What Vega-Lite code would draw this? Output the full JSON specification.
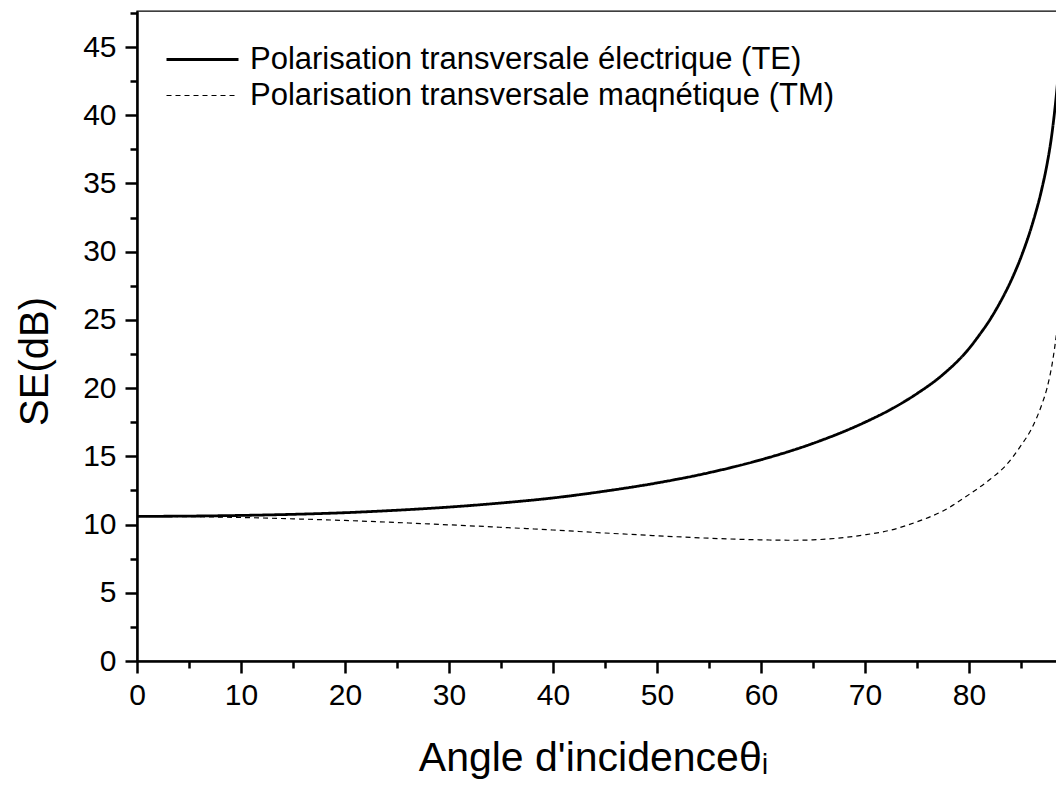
{
  "$schema": "https://vega.github.io/schema/vega-lite/v6.json",
  "width": 920,
  "height": 650,
  "autosize": "none",
  "padding": {"left": 137, "top": 11, "right": 0, "bottom": 124},
  "background": "white",
  "config": {
    "font": "Liberation Sans",
    "view": {"stroke": "black", "strokeWidth": 1.4}
  },
  "datasets": {
    "curves": [
      {"angle": 0, "se": 10.6, "pol": "Polarisation transversale électrique (TE)"},
      {"angle": 5, "se": 10.62, "pol": "Polarisation transversale électrique (TE)"},
      {"angle": 10, "se": 10.67, "pol": "Polarisation transversale électrique (TE)"},
      {"angle": 15, "se": 10.75, "pol": "Polarisation transversale électrique (TE)"},
      {"angle": 20, "se": 10.87, "pol": "Polarisation transversale électrique (TE)"},
      {"angle": 25, "se": 11.05, "pol": "Polarisation transversale électrique (TE)"},
      {"angle": 30, "se": 11.28, "pol": "Polarisation transversale électrique (TE)"},
      {"angle": 35, "se": 11.58, "pol": "Polarisation transversale électrique (TE)"},
      {"angle": 40, "se": 11.95, "pol": "Polarisation transversale électrique (TE)"},
      {"angle": 45, "se": 12.45, "pol": "Polarisation transversale électrique (TE)"},
      {"angle": 50, "se": 13.05, "pol": "Polarisation transversale électrique (TE)"},
      {"angle": 55, "se": 13.8, "pol": "Polarisation transversale électrique (TE)"},
      {"angle": 60, "se": 14.75, "pol": "Polarisation transversale électrique (TE)"},
      {"angle": 65, "se": 15.95, "pol": "Polarisation transversale électrique (TE)"},
      {"angle": 70, "se": 17.5, "pol": "Polarisation transversale électrique (TE)"},
      {"angle": 72.5, "se": 18.45, "pol": "Polarisation transversale électrique (TE)"},
      {"angle": 75, "se": 19.6, "pol": "Polarisation transversale électrique (TE)"},
      {"angle": 77.5, "se": 21.0, "pol": "Polarisation transversale électrique (TE)"},
      {"angle": 80, "se": 22.9, "pol": "Polarisation transversale électrique (TE)"},
      {"angle": 81, "se": 23.9, "pol": "Polarisation transversale électrique (TE)"},
      {"angle": 82, "se": 25.0, "pol": "Polarisation transversale électrique (TE)"},
      {"angle": 83, "se": 26.3, "pol": "Polarisation transversale électrique (TE)"},
      {"angle": 84, "se": 27.8, "pol": "Polarisation transversale électrique (TE)"},
      {"angle": 85, "se": 29.6, "pol": "Polarisation transversale électrique (TE)"},
      {"angle": 86, "se": 31.8, "pol": "Polarisation transversale électrique (TE)"},
      {"angle": 87, "se": 34.6, "pol": "Polarisation transversale électrique (TE)"},
      {"angle": 87.5, "se": 36.4, "pol": "Polarisation transversale électrique (TE)"},
      {"angle": 88, "se": 38.8, "pol": "Polarisation transversale électrique (TE)"},
      {"angle": 88.5, "se": 42.3, "pol": "Polarisation transversale électrique (TE)"},
      {"angle": 89, "se": 47.0, "pol": "Polarisation transversale électrique (TE)"},
      {"angle": 0, "se": 10.6, "pol": "Polarisation transversale maqnétique (TM)"},
      {"angle": 5, "se": 10.58, "pol": "Polarisation transversale maqnétique (TM)"},
      {"angle": 10, "se": 10.52, "pol": "Polarisation transversale maqnétique (TM)"},
      {"angle": 15, "se": 10.42, "pol": "Polarisation transversale maqnétique (TM)"},
      {"angle": 20, "se": 10.3, "pol": "Polarisation transversale maqnétique (TM)"},
      {"angle": 25, "se": 10.15, "pol": "Polarisation transversale maqnétique (TM)"},
      {"angle": 30, "se": 9.98, "pol": "Polarisation transversale maqnétique (TM)"},
      {"angle": 35, "se": 9.8, "pol": "Polarisation transversale maqnétique (TM)"},
      {"angle": 40, "se": 9.6, "pol": "Polarisation transversale maqnétique (TM)"},
      {"angle": 45, "se": 9.38, "pol": "Polarisation transversale maqnétique (TM)"},
      {"angle": 50, "se": 9.18, "pol": "Polarisation transversale maqnétique (TM)"},
      {"angle": 55, "se": 9.0, "pol": "Polarisation transversale maqnétique (TM)"},
      {"angle": 60, "se": 8.88, "pol": "Polarisation transversale maqnétique (TM)"},
      {"angle": 63, "se": 8.85, "pol": "Polarisation transversale maqnétique (TM)"},
      {"angle": 65, "se": 8.88, "pol": "Polarisation transversale maqnétique (TM)"},
      {"angle": 68, "se": 9.05, "pol": "Polarisation transversale maqnétique (TM)"},
      {"angle": 70, "se": 9.25, "pol": "Polarisation transversale maqnétique (TM)"},
      {"angle": 72.5, "se": 9.6, "pol": "Polarisation transversale maqnétique (TM)"},
      {"angle": 75, "se": 10.2, "pol": "Polarisation transversale maqnétique (TM)"},
      {"angle": 77.5, "se": 11.0, "pol": "Polarisation transversale maqnétique (TM)"},
      {"angle": 80, "se": 12.2, "pol": "Polarisation transversale maqnétique (TM)"},
      {"angle": 82, "se": 13.3, "pol": "Polarisation transversale maqnétique (TM)"},
      {"angle": 83.5, "se": 14.3, "pol": "Polarisation transversale maqnétique (TM)"},
      {"angle": 85, "se": 15.8, "pol": "Polarisation transversale maqnétique (TM)"},
      {"angle": 86, "se": 17.0, "pol": "Polarisation transversale maqnétique (TM)"},
      {"angle": 87, "se": 18.8, "pol": "Polarisation transversale maqnétique (TM)"},
      {"angle": 87.5, "se": 20.0, "pol": "Polarisation transversale maqnétique (TM)"},
      {"angle": 88, "se": 21.8, "pol": "Polarisation transversale maqnétique (TM)"},
      {"angle": 88.5, "se": 24.5, "pol": "Polarisation transversale maqnétique (TM)"},
      {"angle": 89, "se": 28.0, "pol": "Polarisation transversale maqnétique (TM)"}
    ]
  },
  "data": {"name": "curves"},
  "mark": {"type": "line", "color": "black", "clip": true, "interpolate": "monotone"},
  "encoding": {
    "x": {
      "field": "angle",
      "type": "quantitative",
      "scale": {"domain": [0, 88.46], "nice": false, "zero": false},
      "axis": {
        "title": "Angle d'incidenceθᵢ",
        "titleFontSize": 41,
        "titleFontWeight": "normal",
        "titleColor": "black",
        "titleBaseline": "alphabetic",
        "titleX": 456,
        "titleY": 109,
        "values": [0, 5, 10, 15, 20, 25, 30, 35, 40, 45, 50, 55, 60, 65, 70, 75, 80, 85],
        "labelExpr": "datum.value % 10 === 0 ? datum.label : ''",
        "labelFontSize": 30,
        "labelColor": "black",
        "labelPadding": 7,
        "labelFlush": false,
        "labelOverlap": false,
        "tickSize": {"condition": {"test": "datum.value % 10 === 0", "value": 12}, "value": 7},
        "tickWidth": 2.5,
        "tickColor": "black",
        "domainColor": "black",
        "domainWidth": 2.5,
        "grid": false
      }
    },
    "y": {
      "field": "se",
      "type": "quantitative",
      "scale": {"domain": [0, 47.64], "nice": false, "zero": false},
      "axis": {
        "title": "SE(dB)",
        "titleFontSize": 40,
        "titleFontWeight": "normal",
        "titleColor": "black",
        "titleBaseline": "alphabetic",
        "titleAngle": 270,
        "titleX": -90,
        "titleY": 350,
        "values": [0, 2.5, 5, 7.5, 10, 12.5, 15, 17.5, 20, 22.5, 25, 27.5, 30, 32.5, 35, 37.5, 40, 42.5, 45, 47.5],
        "labelExpr": "datum.value % 5 === 0 ? datum.label : ''",
        "labelFontSize": 30,
        "labelColor": "black",
        "labelPadding": 9,
        "labelFlush": false,
        "labelOverlap": false,
        "tickSize": {"condition": {"test": "datum.value % 5 === 0", "value": 12}, "value": 7},
        "tickWidth": 2.5,
        "tickColor": "black",
        "domainColor": "black",
        "domainWidth": 2.5,
        "grid": false
      }
    },
    "strokeDash": {
      "field": "pol",
      "type": "nominal",
      "scale": {
        "domain": ["Polarisation transversale électrique (TE)", "Polarisation transversale maqnétique (TM)"],
        "range": [[1, 0], [5, 4]]
      },
      "legend": {
        "title": null,
        "orient": "none",
        "legendX": 26,
        "legendY": 33,
        "symbolType": "M-1,0H5",
        "symbolSize": 576,
        "symbolStrokeColor": "black",
        "labelFontSize": 31,
        "labelColor": "black",
        "labelOffset": 56,
        "rowPadding": 4,
        "labelLimit": 800
      }
    },
    "strokeWidth": {
      "field": "pol",
      "type": "nominal",
      "scale": {
        "domain": ["Polarisation transversale électrique (TE)", "Polarisation transversale maqnétique (TM)"],
        "range": [2.8, 1.2]
      },
      "legend": null
    }
  }
}
